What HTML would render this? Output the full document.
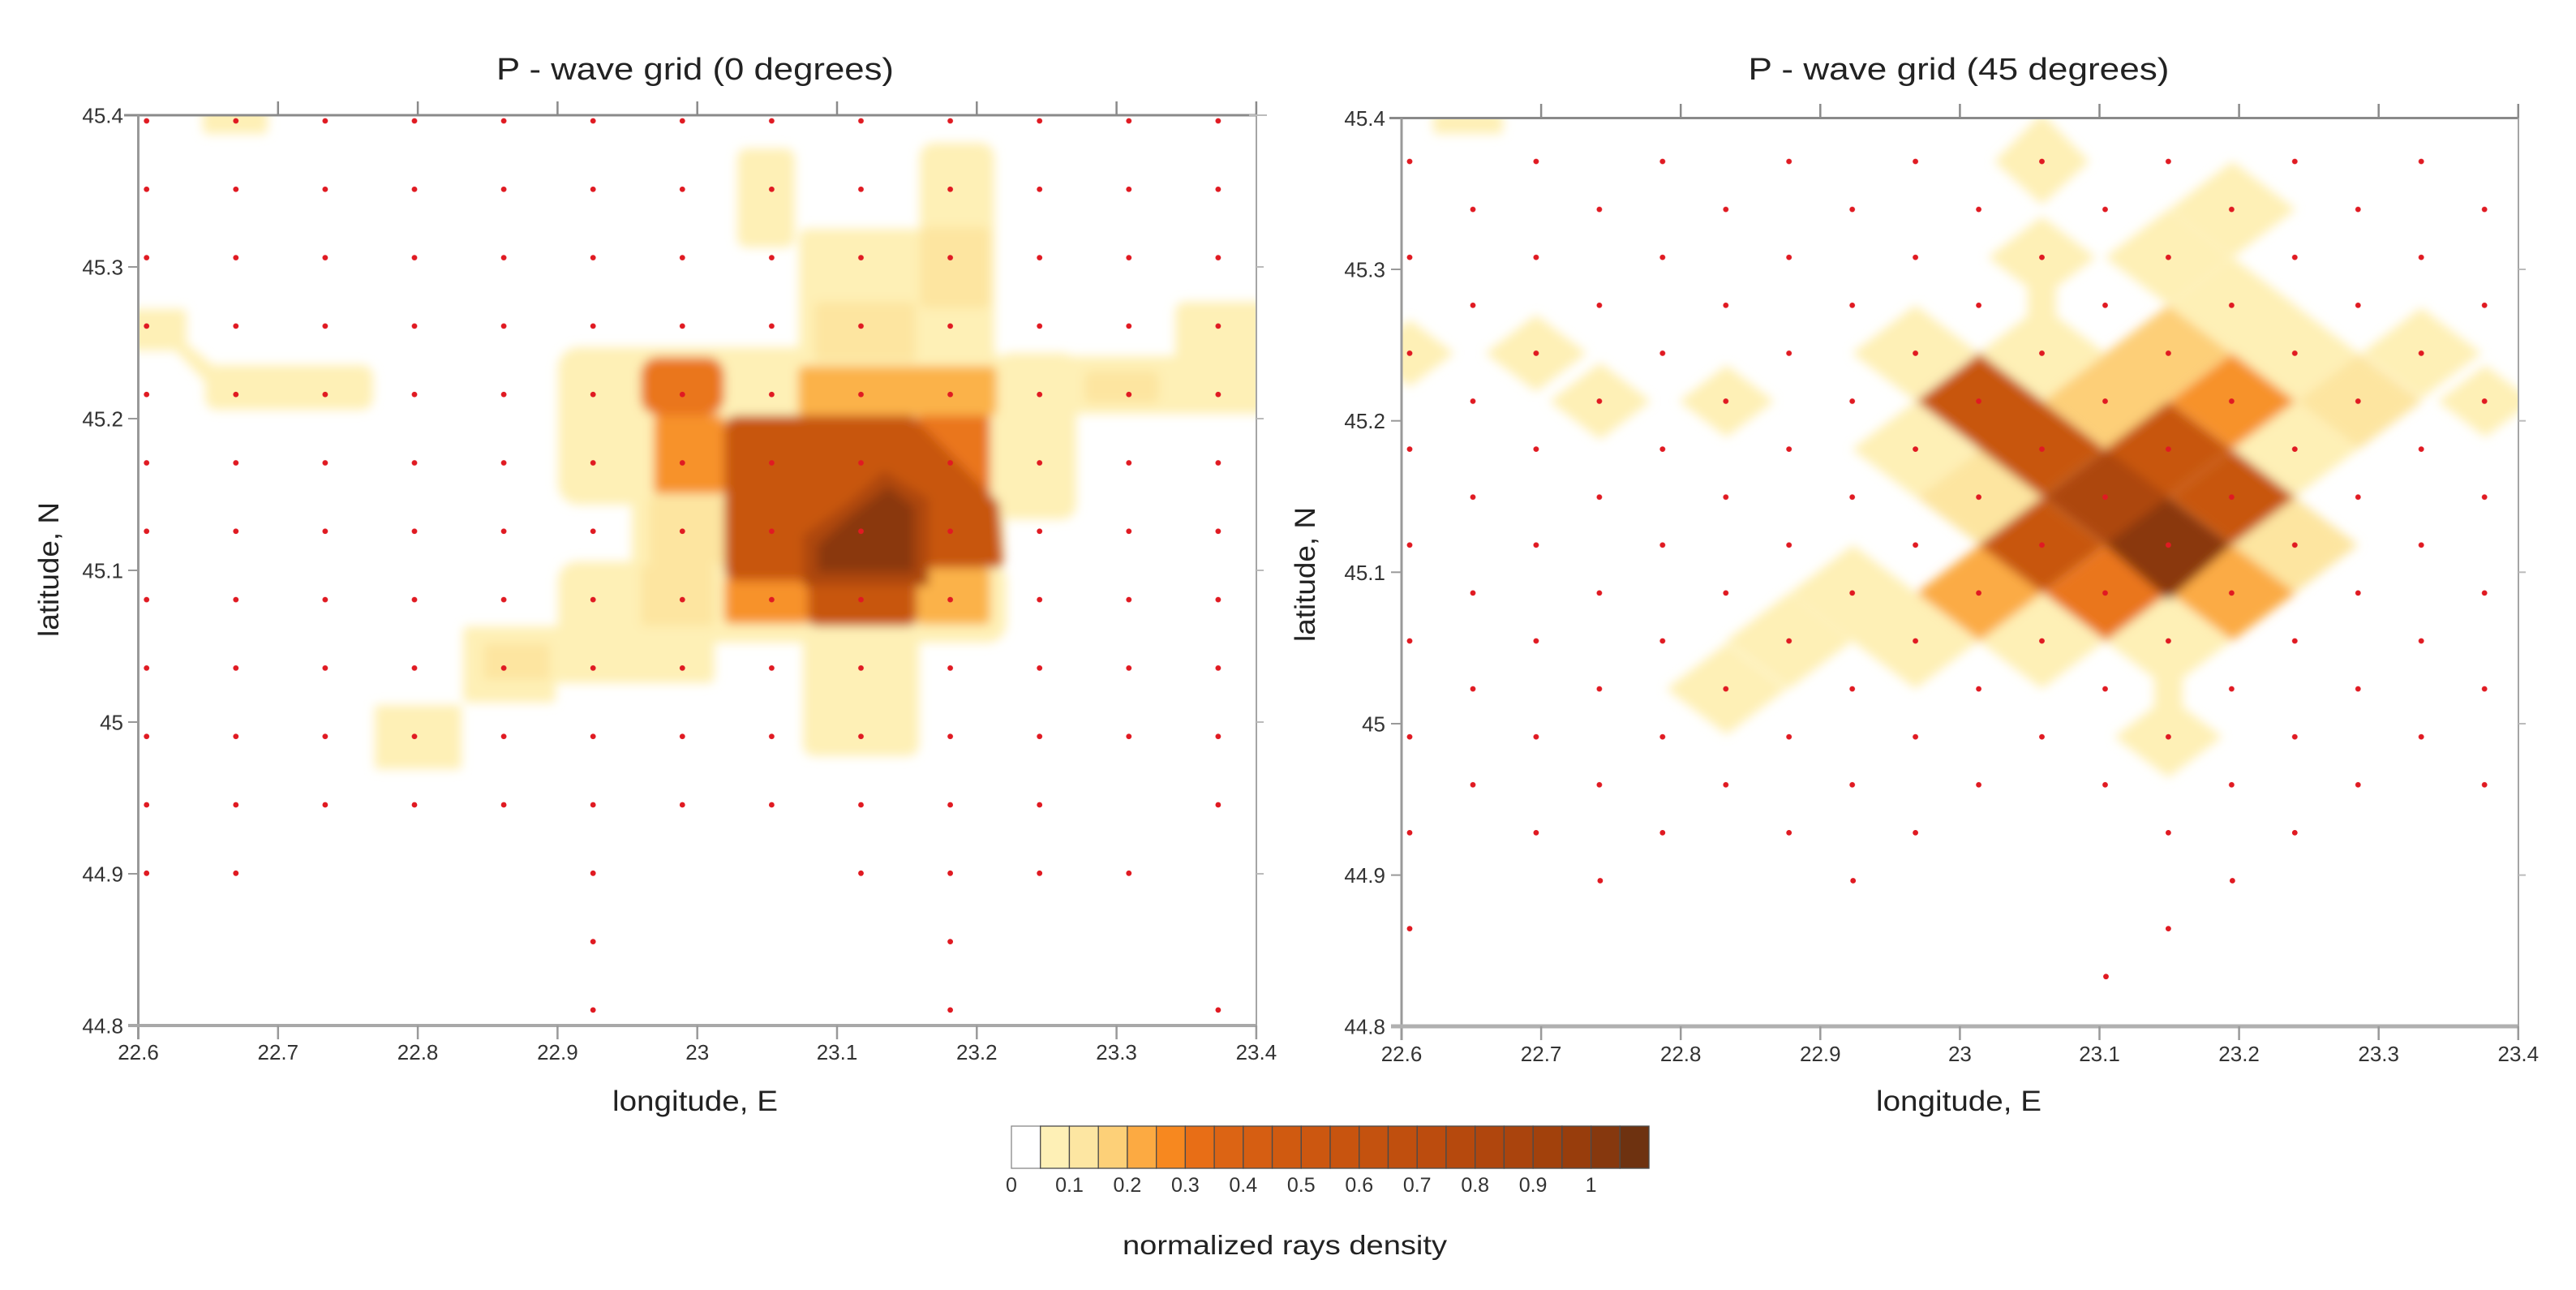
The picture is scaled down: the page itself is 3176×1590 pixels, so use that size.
<!DOCTYPE html>
<html>
<head>
<meta charset="utf-8">
<style>
html,body{margin:0;padding:0;background:#fff;}
svg{display:block;}
text{font-family:"Liberation Sans",Arial,sans-serif;}
</style>
</head>
<body>
<svg width="3176" height="1590" viewBox="0 0 3176 1590" xmlns="http://www.w3.org/2000/svg">
<defs>
  <filter id="blur" x="-5%" y="-5%" width="110%" height="110%"><feGaussianBlur stdDeviation="6.5"/></filter>
  <clipPath id="clipL"><rect x="170.5" y="142" width="1378.5" height="1122"/></clipPath>
  <clipPath id="clipR"><rect x="1728" y="145.5" width="1377" height="1119.5"/></clipPath>
  <pattern id="pL" patternUnits="userSpaceOnUse" x="125.65" y="106.85" width="110.1" height="84.3">
    <circle cx="55.05" cy="42.15" r="3.4" fill="#e01a22"/>
  </pattern>
  <pattern id="pR" patternUnits="userSpaceOnUse" x="1699" y="169.45" width="155.9" height="118.2">
    <circle cx="39" cy="29.55" r="3.4" fill="#e01a22"/>
    <circle cx="117" cy="88.65" r="3.4" fill="#e01a22"/>
  </pattern>
</defs>
<rect width="3176" height="1590" fill="#fff"/>

<!-- ================= LEFT FIELD ================= -->
<g clip-path="url(#clipL)">
<g filter="url(#blur)">
  <g fill="#fef0b6">
    <rect x="250" y="128" width="80" height="37" rx="6"/>
    <rect x="150" y="381" width="80" height="51" rx="6"/>
    <polygon points="210,425 232,425 265,452 252,470"/>
    <rect x="253" y="450" width="207" height="55" rx="14"/>
    <rect x="909" y="183" width="71" height="122" rx="12"/>
    <rect x="1134" y="176" width="92" height="300" rx="18"/>
    <rect x="985" y="282" width="152" height="170" rx="10"/>
    <rect x="688" y="428" width="548" height="194" rx="26"/>
    <rect x="779" y="600" width="460" height="100" rx="10"/>
    <rect x="688" y="692" width="553" height="100" rx="24"/>
    <rect x="571" y="772" width="114" height="94" rx="6"/>
    <rect x="571" y="772" width="310" height="70" rx="8"/>
    <rect x="462" y="869" width="107" height="79" rx="4"/>
    <rect x="990" y="772" width="143" height="160" rx="14"/>
    <rect x="1224" y="439" width="350" height="71" rx="14"/>
    <rect x="1449" y="372" width="125" height="80" rx="12"/>
    <rect x="1229" y="435" width="98" height="205" rx="18"/>
  </g>
  <g fill="#fde5a0">
    <rect x="1134" y="280" width="87" height="100" rx="8"/>
    <rect x="1004" y="372" width="125" height="74" rx="6"/>
    <rect x="1337" y="457" width="92" height="40" rx="8"/>
    <rect x="790" y="696" width="91" height="76" rx="6"/>
    <rect x="800" y="612" width="93" height="84" rx="6"/>
    <rect x="596" y="793" width="82" height="45" rx="4"/>
  </g>
  <g fill="#fbb24a">
    <rect x="984" y="451" width="245" height="62" rx="8"/>
    <rect x="1130" y="700" width="91" height="70" rx="8"/>
  </g>
  <g fill="#f7922a">
    <rect x="806" y="512" width="87" height="97" rx="6"/>
    <rect x="893" y="711" width="105" height="58" rx="8"/>
  </g>
  <g fill="#ea761c">
    <rect x="790" y="440" width="103" height="72" rx="22"/>
    <rect x="1130" y="512" width="91" height="110" rx="6"/>
  </g>
  <path fill="#c8560f" d="M893,530 Q893,512 911,512 L1125,512 L1232,620 L1237,690 Q1237,700 1227,700 L1130,700 L1130,760 Q1130,772 1118,772 L1008,772 Q996,772 996,760 L996,716 L910,716 Q893,716 893,700 Z"/>
  <polygon fill="#ad470d" points="1090,580 1145,615 1145,722 990,722 990,660 1045,620"/>
  <polygon fill="#8a380c" points="1095,600 1127,625 1127,705 1008,705 1008,672 1050,635"/>
</g>
</g>

<!-- ================= RIGHT FIELD ================= -->
<g clip-path="url(#clipR)">
<g filter="url(#blur)">
  <g fill="#fef0b6">
    <rect x="1767" y="138" width="86" height="27" rx="5"/>
    <polygon points="2459,199 2517.5,140 2576,199 2517.5,252.2"/>
    <polygon points="2674.4,258.1 2752.4,199 2830.4,258.1 2752.4,317.2"/>
    <polygon points="2451.2,317.2 2517.5,267 2583.8,317.2 2517.5,367.4"/>
    <polygon points="2595.4,317.2 2673.4,258.1 2751.4,317.2 2673.4,376.3"/>
    <polygon points="2674.4,376.3 2752.4,317.2 2830.4,376.3 2752.4,435.4"/>
    <polygon points="1683.4,435.4 1738,394 1792.6,435.4 1738,476.8"/>
    <polygon points="1831.5,435.4 1893.9,388.1 1956.3,435.4 1893.9,482.7"/>
    <polygon points="2283.6,435.4 2361.6,376.3 2439.6,435.4 2361.6,494.5"/>
    <polygon points="2439.5,435.4 2517.5,376.3 2595.5,435.4 2517.5,494.5"/>
    <polygon points="2751.3,435.4 2829.3,376.3 2907.3,435.4 2829.3,494.5"/>
    <polygon points="2911.1,435.4 2985.2,379.3 3059.3,435.4 2985.2,491.5"/>
    <polygon points="1910.5,494.5 1972.9,447.2 2035.3,494.5 1972.9,541.8"/>
    <polygon points="2070.3,494.5 2128.8,450.2 2187.3,494.5 2128.8,538.8"/>
    <polygon points="3005.7,494.5 3064.2,450.2 3122.7,494.5 3064.2,538.8"/>
    <polygon points="2283.6,553.6 2361.6,494.5 2439.6,553.6 2361.6,612.7"/>
    <polygon points="2751.3,553.6 2829.3,494.5 2907.3,553.6 2829.3,612.7"/>
    <polygon points="2751.3,671.8 2829.3,612.7 2907.3,671.8 2829.3,730.9"/>
    <polygon points="2206.7,730.9 2284.7,671.8 2362.7,730.9 2284.7,790"/>
    <polygon points="2127.7,790 2205.7,730.9 2283.7,790 2205.7,849.1"/>
    <polygon points="2283.6,790 2361.6,730.9 2439.6,790 2361.6,849.1"/>
    <polygon points="2439.5,790 2517.5,730.9 2595.5,790 2517.5,849.1"/>
    <polygon points="2595.4,790 2673.4,730.9 2751.4,790 2673.4,849.1"/>
    <polygon points="2054.7,849.1 2128.8,793 2202.9,849.1 2128.8,905.2"/>
    <polygon points="2607.1,908.2 2673.4,858 2739.7,908.2 2673.4,958.4"/>
    <rect x="2500" y="317" width="35" height="120"/>
    <rect x="2656" y="790" width="35" height="120"/>
  </g>
  <g fill="#fde5a0">
    <polygon points="2830.3,494.5 2908.3,435.4 2986.3,494.5 2908.3,553.6"/>
    <polygon points="2362.6,612.7 2440.6,553.6 2518.6,612.7 2440.6,671.8"/>
    <polygon points="2751.3,671.8 2829.3,612.7 2907.3,671.8 2829.3,730.9"/>
  </g>
  <g fill="#fdcf78">
    <polygon points="2595.4,435.4 2673.4,376.3 2751.4,435.4 2673.4,494.5"/>
    <polygon points="2518.5,494.5 2596.5,435.4 2674.5,494.5 2596.5,553.6"/>
  </g>
  <g fill="#fbab44">
    <polygon points="2362.6,730.9 2440.6,671.8 2518.6,730.9 2440.6,790"/>
    <polygon points="2674.4,730.9 2752.4,671.8 2830.4,730.9 2752.4,790"/>
  </g>
  <g fill="#f7922a">
    <polygon points="2674.4,494.5 2752.4,435.4 2830.4,494.5 2752.4,553.6"/>
  </g>
  <g fill="#ea761c">
    <polygon points="2518.5,730.9 2596.5,671.8 2674.5,730.9 2596.5,790"/>
  </g>
  <g fill="#c8560f">
    <polygon points="2362.6,494.5 2440.6,435.4 2518.6,494.5 2440.6,553.6"/>
    <polygon points="2439.5,553.6 2517.5,494.5 2595.5,553.6 2517.5,612.7"/>
    <polygon points="2595.4,553.6 2673.4,494.5 2751.4,553.6 2673.4,612.7"/>
    <polygon points="2674.4,612.7 2752.4,553.6 2830.4,612.7 2752.4,671.8"/>
    <polygon points="2439.5,671.8 2517.5,612.7 2595.5,671.8 2517.5,730.9"/>
  </g>
  <g fill="#ad470d">
    <polygon points="2518.5,612.7 2596.5,553.6 2674.5,612.7 2596.5,671.8"/>
  </g>
  <g fill="#8a380c">
    <polygon points="2595.4,671.8 2673.4,612.7 2751.4,671.8 2673.4,740"/>
  </g>
</g>
</g>

<!-- ================= DOTS ================= -->
<rect x="125.65" y="106.85" width="1431.3" height="843" fill="url(#pL)"/>
<g fill="#e01a22">
  <circle cx="180.7" cy="992" r="3.4"/><circle cx="290.8" cy="992" r="3.4"/><circle cx="400.9" cy="992" r="3.4"/>
  <circle cx="511" cy="992" r="3.4"/><circle cx="621.1" cy="992" r="3.4"/><circle cx="731.2" cy="992" r="3.4"/>
  <circle cx="841.3" cy="992" r="3.4"/><circle cx="951.4" cy="992" r="3.4"/><circle cx="1061.5" cy="992" r="3.4"/>
  <circle cx="1171.6" cy="992" r="3.4"/><circle cx="1281.7" cy="992" r="3.4"/><circle cx="1501.9" cy="992" r="3.4"/>
  <circle cx="180.7" cy="1076.3" r="3.4"/><circle cx="290.8" cy="1076.3" r="3.4"/><circle cx="731.2" cy="1076.3" r="3.4"/>
  <circle cx="1061.5" cy="1076.3" r="3.4"/><circle cx="1171.6" cy="1076.3" r="3.4"/><circle cx="1281.7" cy="1076.3" r="3.4"/>
  <circle cx="1391.8" cy="1076.3" r="3.4"/>
  <circle cx="731.2" cy="1160.6" r="3.4"/><circle cx="1171.6" cy="1160.6" r="3.4"/>
  <circle cx="731.2" cy="1244.9" r="3.4"/><circle cx="1171.6" cy="1244.9" r="3.4"/><circle cx="1501.9" cy="1244.9" r="3.4"/>
</g>

<rect x="1699" y="169.45" width="1403.1" height="827.4" fill="url(#pR)"/>
<g fill="#e01a22">
  <circle cx="1738" cy="1026.4" r="3.4"/><circle cx="1893.9" cy="1026.4" r="3.4"/><circle cx="2049.8" cy="1026.4" r="3.4"/>
  <circle cx="2205.7" cy="1026.4" r="3.4"/><circle cx="2361.6" cy="1026.4" r="3.4"/><circle cx="2673.4" cy="1026.4" r="3.4"/>
  <circle cx="2829.3" cy="1026.4" r="3.4"/>
  <circle cx="1972.9" cy="1085.5" r="3.4"/><circle cx="2284.7" cy="1085.5" r="3.4"/><circle cx="2752.4" cy="1085.5" r="3.4"/>
  <circle cx="1738" cy="1144.6" r="3.4"/><circle cx="2673.4" cy="1144.6" r="3.4"/>
  <circle cx="2596.5" cy="1203.7" r="3.4"/>
</g>

<!-- ================= LEFT AXES ================= -->
<g stroke-linecap="butt">
  <line x1="153" y1="142" x2="1549" y2="142" stroke="#8a8a8a" stroke-width="3"/>
  <line x1="170.5" y1="142" x2="170.5" y2="1281" stroke="#999" stroke-width="3"/>
  <line x1="158" y1="1264" x2="1549" y2="1264" stroke="#a8a8a8" stroke-width="4"/>
  <line x1="1549" y1="142" x2="1549" y2="1264" stroke="#a5a5a5" stroke-width="2"/>
  <g stroke="#8a8a8a" stroke-width="2.5">
    <line x1="342.8" y1="125" x2="342.8" y2="142"/><line x1="515.1" y1="125" x2="515.1" y2="142"/>
    <line x1="687.4" y1="125" x2="687.4" y2="142"/><line x1="859.7" y1="125" x2="859.7" y2="142"/>
    <line x1="1032" y1="125" x2="1032" y2="142"/><line x1="1204.3" y1="125" x2="1204.3" y2="142"/>
    <line x1="1376.6" y1="125" x2="1376.6" y2="142"/><line x1="1548.9" y1="125" x2="1548.9" y2="142"/>
  </g>
  <g stroke="#999" stroke-width="2.5">
    <line x1="342.8" y1="1264" x2="342.8" y2="1281"/><line x1="515.1" y1="1264" x2="515.1" y2="1281"/>
    <line x1="687.4" y1="1264" x2="687.4" y2="1281"/><line x1="859.7" y1="1264" x2="859.7" y2="1281"/>
    <line x1="1032" y1="1264" x2="1032" y2="1281"/><line x1="1204.3" y1="1264" x2="1204.3" y2="1281"/>
    <line x1="1376.6" y1="1264" x2="1376.6" y2="1281"/><line x1="1548.9" y1="1264" x2="1548.9" y2="1281"/>
  </g>
  <g stroke="#999" stroke-width="2">
    <line x1="158" y1="329" x2="170.5" y2="329"/><line x1="158" y1="516" x2="170.5" y2="516"/>
    <line x1="158" y1="703" x2="170.5" y2="703"/><line x1="158" y1="890" x2="170.5" y2="890"/>
    <line x1="158" y1="1077" x2="170.5" y2="1077"/>
  </g>
  <g stroke="#bbb" stroke-width="2">
    <line x1="1540" y1="142" x2="1562" y2="142"/>
    <line x1="1549" y1="329" x2="1558" y2="329"/><line x1="1549" y1="516" x2="1558" y2="516"/>
    <line x1="1549" y1="703" x2="1558" y2="703"/><line x1="1549" y1="890" x2="1558" y2="890"/>
    <line x1="1549" y1="1077" x2="1558" y2="1077"/>
  </g>
</g>
<g font-size="26" fill="#333" text-anchor="end">
  <text x="152" y="151.5">45.4</text>
  <text x="152" y="338.5">45.3</text>
  <text x="152" y="525.5">45.2</text>
  <text x="152" y="712.5">45.1</text>
  <text x="152" y="899.5">45</text>
  <text x="152" y="1086.5">44.9</text>
  <text x="152" y="1273.5">44.8</text>
</g>
<g font-size="26" fill="#333" text-anchor="middle">
  <text x="170.5" y="1306">22.6</text>
  <text x="342.8" y="1306">22.7</text>
  <text x="515.1" y="1306">22.8</text>
  <text x="687.4" y="1306">22.9</text>
  <text x="859.7" y="1306">23</text>
  <text x="1032" y="1306">23.1</text>
  <text x="1204.3" y="1306">23.2</text>
  <text x="1376.6" y="1306">23.3</text>
  <text x="1548.9" y="1306">23.4</text>
</g>

<!-- ================= RIGHT AXES ================= -->
<g stroke-linecap="butt">
  <line x1="1713" y1="145.5" x2="3105" y2="145.5" stroke="#8a8a8a" stroke-width="3"/>
  <line x1="1728" y1="145.5" x2="1728" y2="1282" stroke="#999" stroke-width="3"/>
  <line x1="1715" y1="1265" x2="3105" y2="1265" stroke="#b0b0b0" stroke-width="5"/>
  <line x1="3105" y1="145.5" x2="3105" y2="1265" stroke="#a5a5a5" stroke-width="2"/>
  <g stroke="#8a8a8a" stroke-width="2.5">
    <line x1="1900.1" y1="128" x2="1900.1" y2="145.5"/><line x1="2072.2" y1="128" x2="2072.2" y2="145.5"/>
    <line x1="2244.3" y1="128" x2="2244.3" y2="145.5"/><line x1="2416.4" y1="128" x2="2416.4" y2="145.5"/>
    <line x1="2588.5" y1="128" x2="2588.5" y2="145.5"/><line x1="2760.6" y1="128" x2="2760.6" y2="145.5"/>
    <line x1="2932.7" y1="128" x2="2932.7" y2="145.5"/><line x1="3104.8" y1="128" x2="3104.8" y2="145.5"/>
  </g>
  <g stroke="#999" stroke-width="2.5">
    <line x1="1900.1" y1="1265" x2="1900.1" y2="1282"/><line x1="2072.2" y1="1265" x2="2072.2" y2="1282"/>
    <line x1="2244.3" y1="1265" x2="2244.3" y2="1282"/><line x1="2416.4" y1="1265" x2="2416.4" y2="1282"/>
    <line x1="2588.5" y1="1265" x2="2588.5" y2="1282"/><line x1="2760.6" y1="1265" x2="2760.6" y2="1282"/>
    <line x1="2932.7" y1="1265" x2="2932.7" y2="1282"/><line x1="3104.8" y1="1265" x2="3104.8" y2="1282"/>
  </g>
  <g stroke="#999" stroke-width="2">
    <line x1="1715" y1="332" x2="1728" y2="332"/><line x1="1715" y1="518.7" x2="1728" y2="518.7"/>
    <line x1="1715" y1="705.3" x2="1728" y2="705.3"/><line x1="1715" y1="892" x2="1728" y2="892"/>
    <line x1="1715" y1="1078.6" x2="1728" y2="1078.6"/>
  </g>
  <g stroke="#bbb" stroke-width="2">
    <line x1="3105" y1="332" x2="3114" y2="332"/><line x1="3105" y1="518.7" x2="3114" y2="518.7"/>
    <line x1="3105" y1="705.3" x2="3114" y2="705.3"/><line x1="3105" y1="892" x2="3114" y2="892"/>
    <line x1="3105" y1="1078.6" x2="3114" y2="1078.6"/>
  </g>
</g>
<g font-size="26" fill="#333" text-anchor="end">
  <text x="1708" y="155">45.4</text>
  <text x="1708" y="341.5">45.3</text>
  <text x="1708" y="528.2">45.2</text>
  <text x="1708" y="714.8">45.1</text>
  <text x="1708" y="901.5">45</text>
  <text x="1708" y="1088.1">44.9</text>
  <text x="1708" y="1274.5">44.8</text>
</g>
<g font-size="26" fill="#333" text-anchor="middle">
  <text x="1728" y="1308">22.6</text>
  <text x="1900.1" y="1308">22.7</text>
  <text x="2072.2" y="1308">22.8</text>
  <text x="2244.3" y="1308">22.9</text>
  <text x="2416.4" y="1308">23</text>
  <text x="2588.5" y="1308">23.1</text>
  <text x="2760.6" y="1308">23.2</text>
  <text x="2932.7" y="1308">23.3</text>
  <text x="3104.8" y="1308">23.4</text>
</g>

<!-- ================= TITLES ================= -->
<g fill="#222" text-anchor="middle">
  <text x="857" y="98" font-size="38" textLength="490" lengthAdjust="spacingAndGlyphs">P - wave grid (0 degrees)</text>
  <text x="2415" y="98" font-size="38" textLength="519" lengthAdjust="spacingAndGlyphs">P - wave grid (45 degrees)</text>
  <text x="857" y="1369" font-size="35" textLength="204" lengthAdjust="spacingAndGlyphs">longitude, E</text>
  <text x="2415" y="1369" font-size="35" textLength="204" lengthAdjust="spacingAndGlyphs">longitude, E</text>
  <text transform="translate(72,702) rotate(-90)" font-size="35" textLength="166" lengthAdjust="spacingAndGlyphs">latitude, N</text>
  <text transform="translate(1621,708) rotate(-90)" font-size="35" textLength="166" lengthAdjust="spacingAndGlyphs">latitude, N</text>
</g>

<!-- ================= COLORBAR ================= -->
<g stroke="#4a4a4a" stroke-width="1.3">
  <rect x="1247" y="1388" width="35.73" height="52" fill="#ffffff" stroke="#888"/>
  <rect x="1282.73" y="1388" width="35.73" height="52" fill="#fef0b6"/>
  <rect x="1318.46" y="1388" width="35.73" height="52" fill="#fde6a2"/>
  <rect x="1354.19" y="1388" width="35.73" height="52" fill="#fdd078"/>
  <rect x="1389.92" y="1388" width="35.73" height="52" fill="#fcaa42"/>
  <rect x="1425.65" y="1388" width="35.73" height="52" fill="#f7881f"/>
  <rect x="1461.38" y="1388" width="35.73" height="52" fill="#e86e16"/>
  <rect x="1497.11" y="1388" width="35.73" height="52" fill="#dc6414"/>
  <rect x="1532.84" y="1388" width="35.73" height="52" fill="#d65e12"/>
  <rect x="1568.57" y="1388" width="35.73" height="52" fill="#d05a10"/>
  <rect x="1604.3" y="1388" width="35.73" height="52" fill="#cc5710"/>
  <rect x="1640.03" y="1388" width="35.73" height="52" fill="#c8540f"/>
  <rect x="1675.76" y="1388" width="35.73" height="52" fill="#c4520f"/>
  <rect x="1711.49" y="1388" width="35.73" height="52" fill="#c04f0e"/>
  <rect x="1747.22" y="1388" width="35.73" height="52" fill="#bc4c0e"/>
  <rect x="1782.95" y="1388" width="35.73" height="52" fill="#b6490d"/>
  <rect x="1818.68" y="1388" width="35.73" height="52" fill="#b0460d"/>
  <rect x="1854.41" y="1388" width="35.73" height="52" fill="#aa440d"/>
  <rect x="1890.14" y="1388" width="35.73" height="52" fill="#a2410c"/>
  <rect x="1925.87" y="1388" width="35.73" height="52" fill="#983d0c"/>
  <rect x="1961.6" y="1388" width="35.73" height="52" fill="#86380e"/>
  <rect x="1997.33" y="1388" width="35.73" height="52" fill="#6e3210"/>
</g>
<g font-size="25" fill="#333" text-anchor="middle">
  <text x="1247" y="1469">0</text>
  <text x="1318.5" y="1469">0.1</text>
  <text x="1389.9" y="1469">0.2</text>
  <text x="1461.4" y="1469">0.3</text>
  <text x="1532.8" y="1469">0.4</text>
  <text x="1604.3" y="1469">0.5</text>
  <text x="1675.8" y="1469">0.6</text>
  <text x="1747.2" y="1469">0.7</text>
  <text x="1818.7" y="1469">0.8</text>
  <text x="1890.1" y="1469">0.9</text>
  <text x="1961.6" y="1469">1</text>
</g>
<text x="1584" y="1546" font-size="33" fill="#222" text-anchor="middle" textLength="400" lengthAdjust="spacingAndGlyphs">normalized rays density</text>
</svg>
</body>
</html>
